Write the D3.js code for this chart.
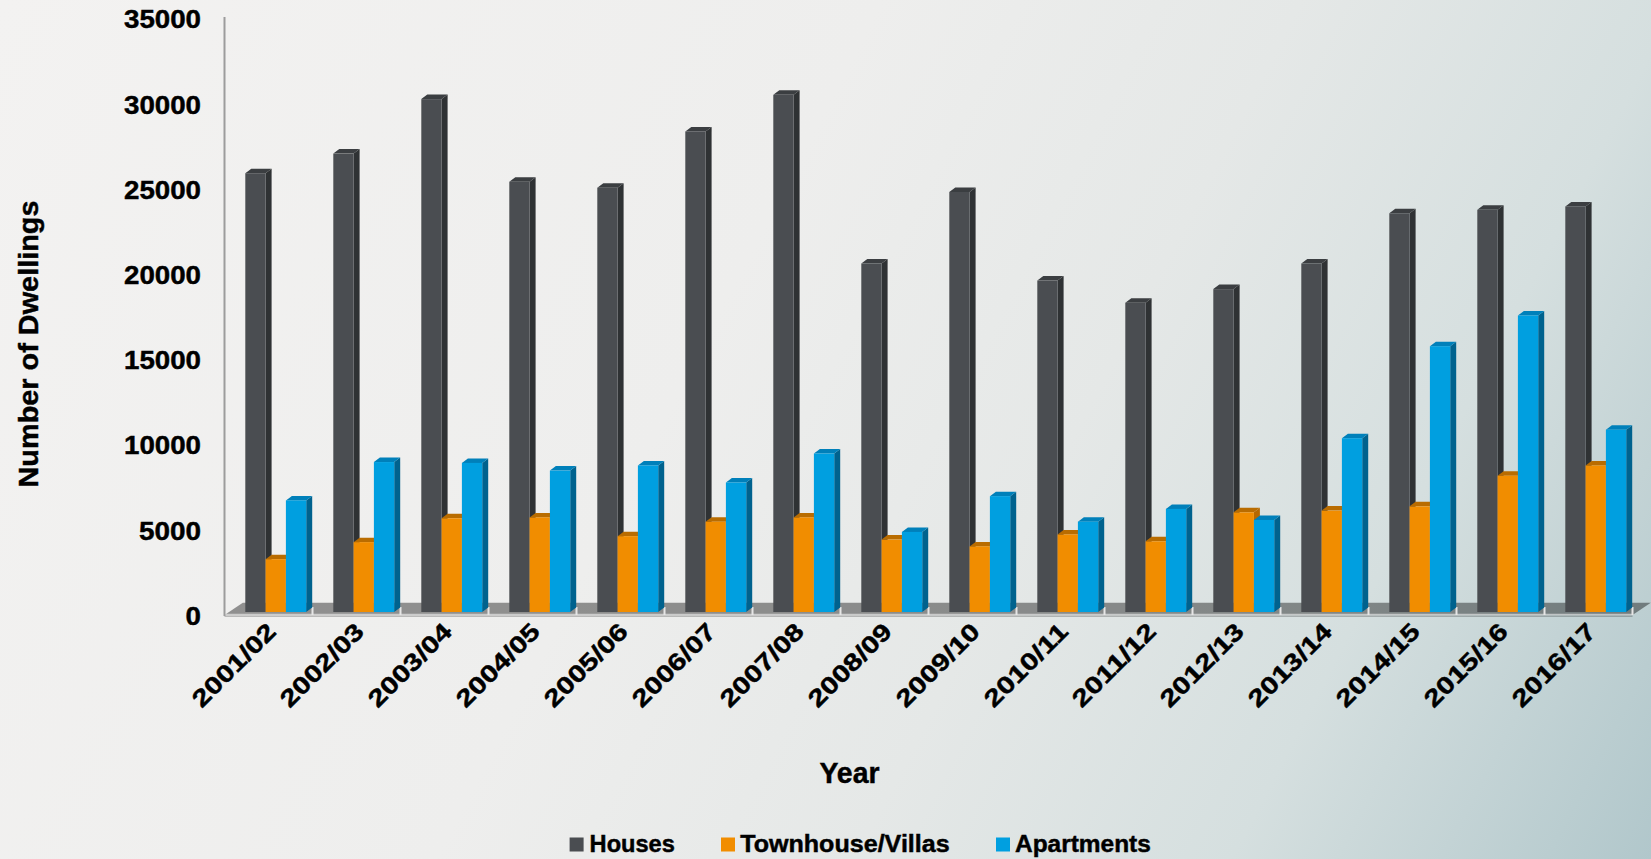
<!DOCTYPE html>
<html>
<head>
<meta charset="utf-8">
<script src="https://cdn.jsdelivr.net/npm/d3@7"></script>
<style>
  html, body { margin: 0; padding: 0; background: #f2f1f0; }
  svg { display: block; }
  text { font-family: "Liberation Sans", Arial, sans-serif; font-weight: bold; fill: #000; stroke: #000; stroke-width: 0.45px; }
</style>
</head>
<body>
<svg id="chart" width="1651" height="859"></svg>
<script>
// Dwelling approvals by type, financial years
const categories = ["2001/02", "2002/03", "2003/04", "2004/05", "2005/06", "2006/07", "2007/08", "2008/09",
                    "2009/10", "2010/11", "2011/12", "2012/13", "2013/14", "2014/15", "2015/16", "2016/17"];
const houses      = [25750, 26900, 30100, 25250, 24900, 28200, 30350, 20450, 24650, 19450, 18150, 18950, 20450, 23400, 23600, 23800];
const townhouses  = [3100, 4100, 5500, 5550, 4450, 5300, 5550, 4250, 3850, 4550, 4150, 5850, 5950, 6200, 8000, 8600];
const apartments  = [6550, 8800, 8750, 8300, 8600, 7600, 9300, 4700, 6800, 5300, 6050, 5400, 10200, 15600, 17400, 10700];
const seriesNames = ["Houses", "Townhouse/Villas", "Apartments"];
const yTicks      = [0, 5000, 10000, 15000, 20000, 25000, 30000, 35000];

const W = 1651, H = 859;
const svg = d3.select("#chart");

// colour sets: front face, side face, top face
const palette = {
  "Houses":           { front: "#4a4d51", side: "#2f3234", top: "#3b3e41" },
  "Townhouse/Villas": { front: "#f18d00", side: "#b56800", top: "#b96c00" },
  "Apartments":       { front: "#009fe0", side: "#00628e", top: "#0080ba" }
};

// background wash
const defs = svg.append("defs");
const bg = defs.append("linearGradient").attr("id", "bg")
  .attr("gradientUnits", "userSpaceOnUse")
  .attr("x1", 0).attr("y1", 0).attr("x2", W).attr("y2", H);
[[0, "#f3f2f1"], [0.42, "#eeeeed"], [0.62, "#e5e8e7"], [0.8, "#d5dfdf"], [1, "#b1c7cb"]]
  .forEach(([o, c]) => bg.append("stop").attr("offset", o).attr("stop-color", c));
svg.append("rect").attr("width", W).attr("height", H).attr("fill", "url(#bg)");

// scales
const plotLeft = 224.5, plotRight = 1632.5;
const x0 = d3.scaleBand().domain(categories).range([plotLeft, plotRight]).padding(0);
const barW = 20.3;
const x1 = d3.scaleBand().domain(seriesNames).range([0, barW * 3]).padding(0);
const groupShift = 20.8;           // bars sit back in depth, pushed right of band start
const y = d3.scaleLinear().domain([0, 35000]).range([612, 612 - 7 * 85.2]);
const depth = { dx: 6, dy: -4.5 };  // bar depth projection
const floorDepth = { dx: 18.3, dy: -12.3 };
const floorFront = 615;

// floor
svg.append("path")
  .attr("d", `M${plotLeft},${floorFront} L${plotRight},${floorFront} L${plotRight + floorDepth.dx},${floorFront + floorDepth.dy} L${plotLeft + floorDepth.dx},${floorFront + floorDepth.dy} Z`)
  .attr("fill", "rgba(0,0,0,0.4)");
svg.append("line")
  .attr("x1", plotLeft).attr("x2", plotRight)
  .attr("y1", floorFront - 0.5).attr("y2", floorFront - 0.5)
  .attr("stroke", "rgba(255,255,255,0.55)").attr("stroke-width", 1.5);
svg.append("line")
  .attr("x1", plotLeft).attr("x2", plotRight)
  .attr("y1", floorFront + 1.2).attr("y2", floorFront + 1.2)
  .attr("stroke", "rgba(0,0,0,0.3)").attr("stroke-width", 1.2);

// category dividers along the floor front
svg.append("g").selectAll("line")
  .data(categories.slice(1).concat(["__end"]))
  .join("line")
  .attr("x1", d => d === "__end" ? plotRight : x0(d))
  .attr("x2", d => d === "__end" ? plotRight : x0(d))
  .attr("y1", floorFront - 8).attr("y2", floorFront)
  .attr("stroke", "#e6e6e6").attr("stroke-width", 2);

// value axis line
svg.append("line")
  .attr("x1", plotLeft).attr("x2", plotLeft)
  .attr("y1", y(35000) + 1.5).attr("y2", floorFront + 1)
  .attr("stroke", "#9c9c9c").attr("stroke-width", 2);

// bars
const rows = categories.map((c, i) => ({
  cat: c,
  vals: [
    { s: "Houses", v: houses[i] },
    { s: "Townhouse/Villas", v: townhouses[i] },
    { s: "Apartments", v: apartments[i] }
  ]
}));

const groups = svg.append("g").selectAll("g")
  .data(rows).join("g")
  .attr("transform", d => `translate(${x0(d.cat) + groupShift},0)`);

groups.each(function (row) {
  const g = d3.select(this);
  row.vals.forEach(b => {
    const xl = x1(b.s), xr = xl + x1.bandwidth();
    const yt = y(b.v), yb = y(0);
    const col = palette[b.s];
    // side face
    g.append("path")
      .attr("d", `M${xr},${yt} L${xr + depth.dx},${yt + depth.dy} L${xr + depth.dx},${yb + depth.dy} L${xr},${yb} Z`)
      .attr("fill", col.side);
    // top face
    g.append("path")
      .attr("d", `M${xl},${yt} L${xr},${yt} L${xr + depth.dx},${yt + depth.dy} L${xl + depth.dx},${yt + depth.dy} Z`)
      .attr("fill", col.top);
    // front face
    g.append("rect")
      .attr("x", xl).attr("y", yt)
      .attr("width", x1.bandwidth()).attr("height", yb - yt)
      .attr("fill", col.front);
  });
});

// value axis labels
const tickW = { 1: 15.4, 4: 62, 5: 77 };
svg.append("g").selectAll("text")
  .data(yTicks).join("text")
  .attr("x", 201)
  .attr("y", d => y(d) + 3.7)
  .attr("dy", "0.36em")
  .attr("text-anchor", "end")
  .attr("font-size", 25.5)
  .attr("textLength", d => tickW[String(d).length])
  .attr("lengthAdjust", "spacingAndGlyphs")
  .text(d => d);

// category labels
svg.append("g").selectAll("text")
  .data(categories).join("text")
  .attr("transform", d => `translate(${x0(d) + x0.bandwidth() / 2 + 9},633) rotate(-45)`)
  .attr("text-anchor", "end")
  .attr("font-size", 24)
  .attr("textLength", 107)
  .attr("lengthAdjust", "spacingAndGlyphs")
  .text(d => d);

// axis titles
svg.append("text")
  .attr("transform", "translate(38,344) rotate(-90)")
  .attr("text-anchor", "middle")
  .attr("font-size", 28)
  .attr("textLength", 287)
  .attr("lengthAdjust", "spacingAndGlyphs")
  .text("Number of Dwellings");

svg.append("text")
  .attr("x", 849.5).attr("y", 782.5)
  .attr("text-anchor", "middle")
  .attr("font-size", 30)
  .attr("textLength", 60)
  .attr("lengthAdjust", "spacingAndGlyphs")
  .text("Year");

// legend
const legendItems = [
  { s: "Houses", sx: 569.6, tx: 589.6, tw: 85.3 },
  { s: "Townhouse/Villas", sx: 721, tx: 740.2, tw: 209.5 },
  { s: "Apartments", sx: 996, tx: 1015, tw: 135.8 }
];
const legend = svg.append("g");
legend.selectAll("rect").data(legendItems).join("rect")
  .attr("x", d => d.sx).attr("y", 837.5)
  .attr("width", 14).attr("height", 14)
  .attr("fill", d => palette[d.s].front);
legend.selectAll("text").data(legendItems).join("text")
  .attr("x", d => d.tx).attr("y", 852)
  .attr("font-size", 24)
  .attr("textLength", d => d.tw)
  .attr("lengthAdjust", "spacingAndGlyphs")
  .text(d => d.s);
</script>
</body>
</html>
